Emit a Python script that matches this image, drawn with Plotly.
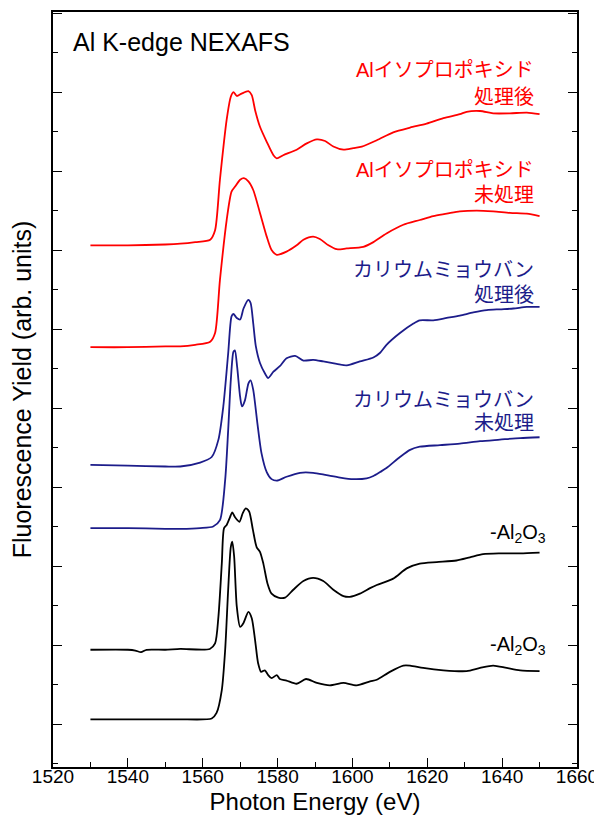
import plotly.graph_objects as go

# ---- data (arbitrary stacked units, 1 major tick = 1) ----
e_al_iso_treated = [1530, 1540, 1550, 1554, 1558, 1562, 1563.3, 1564.6, 1566.4, 1567.5, 1568.2, 1569.1,
                    1570.4, 1572.2, 1573.1, 1574.0, 1575.3, 1577.1, 1578.9, 1579.8, 1581.5, 1585.1,
                    1587.8, 1590.5, 1592.7, 1594.9, 1597.6, 1600.2, 1602.5, 1606.5, 1610.9, 1615.4,
                    1619.8, 1624.3, 1628.7, 1630.5, 1634.1, 1637.6, 1642.1, 1646.6, 1650]
y_al_iso_treated = [6.06, 6.06, 6.07, 6.08, 6.10, 6.13, 6.25, 6.89, 7.65, 7.94, 8.00, 7.95,
                    7.98, 8.01, 7.96, 7.77, 7.56, 7.37, 7.20, 7.16, 7.20, 7.27,
                    7.35, 7.40, 7.38, 7.31, 7.27, 7.29, 7.31, 7.39, 7.49, 7.55,
                    7.60, 7.67, 7.72, 7.75, 7.76, 7.73, 7.73, 7.74, 7.72]

e_al_iso_raw = [1530, 1540, 1550, 1554, 1558, 1562, 1563.3, 1564.6, 1566.4, 1567.7, 1568.6, 1570.0,
                1571.0, 1572.2, 1573.5, 1575.3, 1577.1, 1578.4, 1579.8, 1582.4, 1585.1, 1586.9,
                1589.5, 1591.3, 1593.6, 1595.8, 1598.5, 1602.9, 1605.6, 1609.1, 1613.6, 1618.0,
                1621.6, 1625.2, 1628.7, 1633.2, 1637.6, 1642.1, 1646.6, 1650]
y_al_iso_raw = [4.77, 4.77, 4.78, 4.78, 4.80, 4.84, 4.95, 5.62, 6.38, 6.74, 6.80, 6.89,
                6.91, 6.87, 6.76, 6.47, 6.17, 6.00, 5.94, 5.98, 6.06, 6.13,
                6.17, 6.14, 6.06, 6.01, 6.02, 6.04, 6.10, 6.21, 6.32, 6.38,
                6.43, 6.46, 6.49, 6.50, 6.49, 6.47, 6.46, 6.43]

e_alum_treated = [1530, 1540, 1550, 1554, 1559.3, 1562.4, 1564.2, 1565.5, 1566.8, 1567.7, 1568.2, 1569.1,
                  1570.0, 1570.9, 1572.2, 1572.8, 1573.5, 1574.2, 1575.3, 1576.6, 1577.5, 1578.9,
                  1580.6, 1582.4, 1584.7, 1586.9, 1589.5, 1592.2, 1595.8, 1598.5, 1602.0, 1605.6,
                  1607.4, 1609.1, 1612.7, 1616.3, 1618.0, 1621.6, 1625.2, 1628.7, 1632.3, 1635.9,
                  1639.4, 1643.0, 1646.6, 1650]
y_alum_treated = [3.28, 3.27, 3.26, 3.26, 3.31, 3.38, 3.60, 4.02, 4.69, 5.16, 5.19, 5.14,
                  5.12, 5.26, 5.37, 5.33, 5.07, 4.78, 4.57, 4.44, 4.38, 4.46,
                  4.53, 4.63, 4.66, 4.60, 4.61, 4.59, 4.56, 4.54, 4.59, 4.64,
                  4.70, 4.80, 4.95, 5.07, 5.11, 5.11, 5.14, 5.17, 5.21, 5.24,
                  5.25, 5.26, 5.28, 5.28]

e_alum_raw = [1530, 1540, 1550, 1554, 1559.3, 1562.8, 1564.6, 1566.0, 1566.8, 1567.5, 1568.2, 1568.6,
              1569.2, 1570.0, 1570.5, 1571.3, 1572.2, 1572.8, 1573.5, 1574.6, 1575.7, 1577.1,
              1578.4, 1579.8, 1582.4, 1586.0, 1589.5, 1593.1, 1596.7, 1600.2, 1603.8, 1605.6,
              1607.4, 1609.1, 1612.7, 1615.4, 1618.0, 1623.4, 1628.7, 1634.1, 1639.4, 1644.8, 1650]
y_alum_raw = [2.48, 2.48, 2.47, 2.47, 2.48, 2.50, 2.58, 3.09, 3.72, 4.35, 4.71, 4.73,
              4.52, 4.14, 4.02, 4.10, 4.31, 4.35, 4.23, 3.81, 3.43, 3.19,
              3.10, 3.08, 3.13, 3.18, 3.18, 3.15, 3.12, 3.10, 3.11, 3.14,
              3.19, 3.24, 3.38, 3.47, 3.51, 3.53, 3.55, 3.58, 3.60, 3.62, 3.63]

e_al2o3_a = [1530, 1540, 1542, 1543.5, 1545, 1550, 1554, 1561.9, 1563.3, 1564.2, 1565.1, 1565.7,
             1566.4, 1567.3, 1567.9, 1568.6, 1569.8, 1570.7, 1571.5, 1572.4, 1573.4, 1574.4,
             1575.3, 1576.2, 1577.3, 1578.4, 1580.2, 1582.0, 1584.2, 1586.9, 1589.5, 1592.2,
             1594.9, 1597.6, 1599.3, 1602.0, 1604.7, 1606.5, 1610.9, 1614.5, 1618.0, 1622.5,
             1627.8, 1631.4, 1634.9, 1639.4, 1644.8, 1650]
y_al2o3_a = [0.94, 0.94, 0.93, 0.91, 0.94, 0.94, 0.95, 0.95, 1.02, 1.36, 2.03, 2.48,
             2.52, 2.62, 2.68, 2.62, 2.56, 2.67, 2.73, 2.69, 2.46, 2.24,
             2.18, 2.03, 1.78, 1.65, 1.60, 1.60, 1.70, 1.81, 1.85, 1.81,
             1.70, 1.62, 1.61, 1.65, 1.72, 1.76, 1.84, 1.97, 2.03, 2.05,
             2.07, 2.11, 2.15, 2.16, 2.16, 2.17]

e_al2o3_b = [1530, 1540, 1550, 1554, 1562.4, 1563.7, 1565.1, 1566.0, 1566.8, 1567.5, 1567.9, 1568.4,
             1569.1, 1570.0, 1570.9, 1572.2, 1573.1, 1574.0, 1574.8, 1575.6, 1576.6, 1577.5,
             1578.4, 1579.8, 1580.6, 1582.4, 1585.1, 1587.6, 1590.5, 1594.0, 1597.6, 1601.1,
             1604.7, 1606.5, 1610.0, 1613.6, 1615.4, 1618.9, 1624.3, 1630.5, 1634.1, 1637.6,
             1641.2, 1644.8, 1650]
y_al2o3_b = [0.06, 0.06, 0.06, 0.06, 0.07, 0.14, 0.43, 0.94, 1.70, 2.24, 2.31, 2.12,
             1.49, 1.23, 1.28, 1.42, 1.34, 1.06, 0.77, 0.66, 0.68, 0.62,
             0.58, 0.62, 0.57, 0.55, 0.51, 0.57, 0.52, 0.49, 0.52, 0.49,
             0.54, 0.56, 0.66, 0.74, 0.74, 0.71, 0.68, 0.67, 0.71, 0.74,
             0.71, 0.68, 0.67]

# label texts and anchor values (x in eV, y in stacked units)
label_texts = ["Alイソプロポキシド", "処理後", "Alイソプロポキシド", "未処理",
               "カリウムミョウバン", "処理後", "カリウムミョウバン", "未処理",
               "-Al<sub>2</sub>O<sub>3</sub>", "-Al<sub>2</sub>O<sub>3</sub>"]
label_x = [1649, 1649, 1649, 1649, 1649, 1649, 1649, 1649, 1652.2, 1652.2]
label_y = [8.28, 7.94, 7.01, 6.70, 5.75, 5.43, 4.10, 3.81, 2.41, 1.00]

RED = "#ff0000"
BLUE = "#1c1c8a"
BLACK = "#000000"
label_colors = [RED, RED, RED, RED, BLUE, BLUE, BLUE, BLUE, BLACK, BLACK]

series = [
    (e_al_iso_treated, y_al_iso_treated, RED),
    (e_al_iso_raw, y_al_iso_raw, RED),
    (e_alum_treated, y_alum_treated, BLUE),
    (e_alum_raw, y_alum_raw, BLUE),
    (e_al2o3_a, y_al2o3_a, BLACK),
    (e_al2o3_b, y_al2o3_b, BLACK),
]

fig = go.Figure()
for ex, ey, col in series:
    fig.add_trace(go.Scatter(x=ex, y=ey, mode="lines",
                             line=dict(color=col, width=1.8, shape="spline", smoothing=0.7),
                             showlegend=False, hoverinfo="skip"))

for t, lx, ly, c in zip(label_texts, label_x, label_y, label_colors):
    fig.add_annotation(x=lx, y=ly, xref="x", yref="y", text=t, showarrow=False,
                       xanchor="right", yanchor="middle",
                       font=dict(size=20, color=c, family="Liberation Sans, Noto Sans CJK JP"))

fig.add_annotation(x=0.034, y=0.960, xref="paper", yref="paper", text="Al K-edge NEXAFS",
                   showarrow=False, xanchor="left", yanchor="middle",
                   font=dict(size=25, color="black", family="Liberation Sans"))

# the page body has an 8px default margin, so the figure is offset by 8px
fig.update_layout(
    width=602, height=827,
    margin=dict(l=45, r=33, t=4, b=68),
    paper_bgcolor="white", plot_bgcolor="white",
    font=dict(family="Liberation Sans, Arial, sans-serif", color="black"),
    xaxis=dict(range=[1520, 1660], tick0=1520, dtick=20, ticks="inside", ticklen=9,
               tickwidth=1.2, tickcolor="black", showline=True, linecolor="black", linewidth=1.5,
               mirror=True, showgrid=False, zeroline=False, automargin=False,
               tickfont=dict(size=19), ticklabelstandoff=-9,
               minor=dict(dtick=10, ticks="inside", ticklen=5, tickcolor="black", tickwidth=1.2),
               title=dict(text="Photon Energy (eV)", font=dict(size=24), standoff=8)),
    yaxis=dict(range=[-0.544, 9.013], tick0=0, dtick=1, ticks="inside", ticklen=9,
               tickwidth=1.2, tickcolor="black", showline=True, linecolor="black", linewidth=1.5,
               mirror="ticks", showgrid=False, zeroline=False, showticklabels=False,
               automargin=False,
               minor=dict(dtick=0.5, ticks="inside", ticklen=5, tickcolor="black", tickwidth=1.2),
               title=dict(text="Fluorescence Yield (arb. units)", font=dict(size=25), standoff=15)),
)

fig.write_html("out.html")
